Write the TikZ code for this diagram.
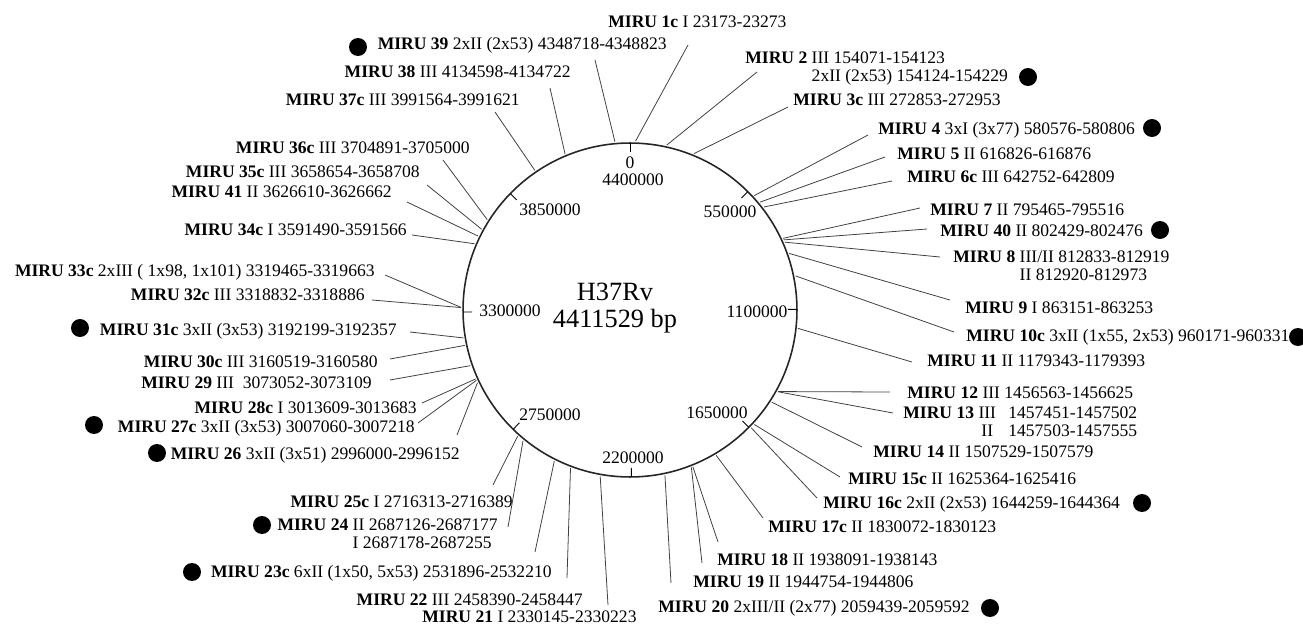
\documentclass[tikz,border=0pt]{standalone}
\usepackage{fontspec}
\setmainfont{Liberation Serif}
\usetikzlibrary{calc}
\renewcommand{\arraystretch}{0.85}
\newcommand{\genomelen}{4411.529}
\begin{document}
\begin{tikzpicture}[x=0.02cm, y=-0.02cm,
  every node/.style={font=\fontsize{10}{12}\selectfont, inner sep=0pt},
  locus/.style={line width=0.45pt, black!75},
  locusdot/.style={circle, fill=black, minimum size=0.36cm}]
  \useasboundingbox (0,0) rectangle (1303,625);
  % chromosome
  \coordinate (c) at (630,310);
  \draw[line width=0.9pt, black!85] (c) circle (3.34cm);
  \node[font=\fontsize{15}{15.4}\selectfont, align=center] (genome) at (615,308) {H37Rv\\4411529 bp};
  % scale ticks every 550 kb
  \foreach \k in {0,...,7}
    \draw[line width=0.5pt] ({630+167*sin(\k*550/\genomelen*360)},{310-167*cos(\k*550/\genomelen*360)})
      -- ({630+158*sin(\k*550/\genomelen*360)},{310-158*cos(\k*550/\genomelen*360)});
  \foreach \nm/\x/\y/\txt in {0/630/163/0, 4400/633/180/4400000, 550/730/212/550000,
      1100/757/312/1100000, 1650/717/413/1650000, 2200/633/458/2200000,
      2750/550/415/2750000, 3300/510/311/3300000, 3850/550/210/3850000}
    \node (t\nm) at (\x,\y) {\txt};
  % loci: name / start (kb) / end of the leader line
  \foreach \nm/\p/\ex/\ey in {1c/23.173/688/45, 2/154.071/757/72, 3c/272.853/788/107,
      4/580.576/868/135, 5/616.826/885/157, 6c/642.752/892/181, 7/795.465/920/208,
      40/802.429/927/229, 8/812.833/940/257, 9/863.151/950/300, 10c/960.171/954/332,
      11/1179.343/912/362, 12/1456.563/890/392, 13/1457.451/893/413, 14/1507.529/862/447,
      15c/1625.364/840/477, 16c/1644.259/817/498, 17c/1830.072/763/518, 18/1938.091/718/542,
      19/1944.754/702/563, 20/2059.439/671/583, 21/2330.145/608/605, 22/2458.390/567/578,
      23c/2531.896/535/552, 24/2687.126/508/527, 25c/2716.313/493/485, 26/2996.000/457/435,
      27c/3007.060/418/423, 28c/3013.609/422/403, 29/3073.052/390/380, 30c/3160.519/390/359,
      31c/3192.199/410/332, 32c/3318.832/372/300, 33c/3319.465/385/275, 34c/3591.490/412/235,
      41/3626.610/407/202, 35c/3658.654/427/185, 36c/3704.891/443/160, 37c/3991.564/495/112,
      38/4134.598/550/88, 39/4348.718/595/60} {
    \coordinate (m\nm) at ({630+169*sin(\p/\genomelen*360)},{310-169*cos(\p/\genomelen*360)});
    \coordinate (e\nm) at (\ex,\ey);
    \draw[locus] (m\nm) -- (e\nm);
  }
  % right half
  \node[anchor=west] (l1c) at (608,22) {\textbf{MIRU 1c} I 23173-23273};
  \node[anchor=west] (l2) at (745,69) {\begin{tabular}{@{}l@{ }l@{}}\textbf{MIRU 2} & III 154071-154123\\ & 2xII (2x53) 154124-154229\end{tabular}};
  \node[locusdot] (d2) at (1028,77) {};
  \node[anchor=west] (l3c) at (793,100) {\textbf{MIRU 3c} III 272853-272953};
  \node[anchor=west] (l4) at (878,130) {\textbf{MIRU 4} 3xI (3x77) 580576-580806};
  \node[locusdot] (d4) at (1152,128) {};
  \node[anchor=west] (l5) at (897,154) {\textbf{MIRU 5} II 616826-616876};
  \node[anchor=west] (l6c) at (907,177) {\textbf{MIRU 6c} III 642752-642809};
  \node[anchor=west] (l7) at (930,210) {\textbf{MIRU 7} II 795465-795516};
  \node[anchor=west] (l40) at (940,231) {\textbf{MIRU 40} II 802429-802476};
  \node[locusdot] (d40) at (1160,230) {};
  \node[anchor=west] (l8) at (953,268) {\begin{tabular}{@{}l@{ }l@{}}\textbf{MIRU 8} & III/II 812833-812919\\ & II 812920-812973\end{tabular}};
  \node[anchor=west] (l9) at (965,308) {\textbf{MIRU 9} I 863151-863253};
  \node[anchor=west] (l10c) at (966,337) {\textbf{MIRU 10c} 3xII (1x55, 2x53) 960171-960331};
  \node[locusdot] (d10c) at (1298,337) {};
  \node[anchor=west] (l11) at (927,361) {\textbf{MIRU 11} II 1179343-1179393};
  \node[anchor=west] (l12) at (907,393) {\textbf{MIRU 12} III 1456563-1456625};
  \node[anchor=west] (l13) at (903,424) {\begin{tabular}{@{}l@{ }c@{\hspace{0.7em}}l@{}}\textbf{MIRU 13} & III & 1457451-1457502\\ & II & 1457503-1457555\end{tabular}};
  \node[anchor=west] (l14) at (873,452) {\textbf{MIRU 14} II 1507529-1507579};
  \node[anchor=west] (l15c) at (848,479) {\textbf{MIRU 15c} II 1625364-1625416};
  \node[anchor=west] (l16c) at (823,504) {\textbf{MIRU 16c} 2xII (2x53) 1644259-1644364};
  \node[locusdot] (d16c) at (1142,503) {};
  \node[anchor=west] (l17c) at (768,527) {\textbf{MIRU 17c} II 1830072-1830123};
  \node[anchor=west] (l18) at (717,560) {\textbf{MIRU 18} II 1938091-1938143};
  \node[anchor=west] (l19) at (693,582) {\textbf{MIRU 19} II 1944754-1944806};
  \node[anchor=west] (l20) at (658,608) {\textbf{MIRU 20} 2xIII/II (2x77) 2059439-2059592};
  \node[locusdot] (d20) at (990,608) {};
  % left half
  \node[anchor=west] (l21) at (422,617) {\textbf{MIRU 21} I 2330145-2330223};
  \node[anchor=east] (l22) at (583,600) {\textbf{MIRU 22} III 2458390-2458447};
  \node[anchor=east] (l23c) at (552,573) {\textbf{MIRU 23c} 6xII (1x50, 5x53) 2531896-2532210};
  \node[locusdot] (d23c) at (192,572) {};
  \node[anchor=east] (l24) at (498,536) {\begin{tabular}{@{}l@{ }l@{}}\textbf{MIRU 24} & II 2687126-2687177\\ & I 2687178-2687255\end{tabular}};
  \node[locusdot] (d24) at (262,525) {};
  \node[anchor=east] (l25c) at (513,502) {\textbf{MIRU 25c} I 2716313-2716389};
  \node[anchor=east] (l26) at (460,455) {\textbf{MIRU 26} 3xII (3x51) 2996000-2996152};
  \node[locusdot] (d26) at (157,453) {};
  \node[anchor=east] (l27c) at (415,428) {\textbf{MIRU 27c} 3xII (3x53) 3007060-3007218};
  \node[locusdot] (d27c) at (94,425) {};
  \node[anchor=east] (l28c) at (417,408) {\textbf{MIRU 28c} I 3013609-3013683};
  \node[anchor=east] (l29) at (372,383) {\textbf{MIRU 29} III~~3073052-3073109};
  \node[anchor=east] (l30c) at (378,362) {\textbf{MIRU 30c} III 3160519-3160580};
  \node[anchor=east] (l31c) at (397,331) {\textbf{MIRU 31c} 3xII (3x53) 3192199-3192357};
  \node[locusdot] (d31c) at (80,328) {};
  \node[anchor=east] (l32c) at (365,295) {\textbf{MIRU 32c} III 3318832-3318886};
  \node[anchor=east] (l33c) at (375,272) {\textbf{MIRU 33c} 2xIII ( 1x98, 1x101) 3319465-3319663};
  \node[anchor=east] (l34c) at (407,230) {\textbf{MIRU 34c} I 3591490-3591566};
  \node[anchor=east] (l41) at (392,192) {\textbf{MIRU 41} II 3626610-3626662};
  \node[anchor=east] (l35c) at (420,172) {\textbf{MIRU 35c} III 3658654-3658708};
  \node[anchor=east] (l36c) at (470,148) {\textbf{MIRU 36c} III 3704891-3705000};
  \node[anchor=east] (l37c) at (520,100) {\textbf{MIRU 37c} III 3991564-3991621};
  \node[anchor=east] (l38) at (571,72) {\textbf{MIRU 38} III 4134598-4134722};
  \node[anchor=east] (l39) at (667,45) {\textbf{MIRU 39} 2xII (2x53) 4348718-4348823};
  \node[locusdot] (d39) at (358,47) {};
\end{tikzpicture}
\end{document}
